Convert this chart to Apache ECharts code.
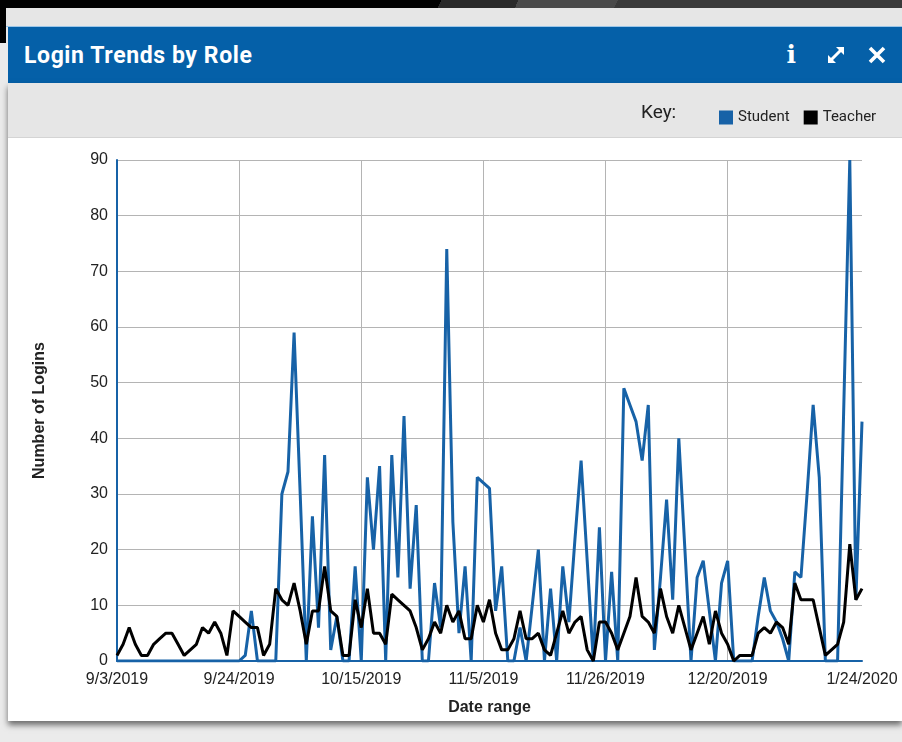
<!DOCTYPE html>
<html>
<head>
<meta charset="utf-8">
<script src="https://cdn.jsdelivr.net/npm/echarts@6/dist/echarts.min.js"></script>
<style>
  html, body { margin: 0; padding: 0; }
  body { width: 902px; height: 742px; position: relative; overflow: hidden; background: #ebebeb; font-family: Roboto, "Liberation Sans", sans-serif; }
  #topband { position: absolute; left: 0; top: 0; width: 902px; height: 8px;
    background: linear-gradient(115deg, #000 0, #000 400px, #2a2a2a 400px, #2a2a2a 470px, #4a4a4a 470px, #4a4a4a 560px, #3a3a3a 560px); }
  #corner { position: absolute; left: 0; top: 0; width: 6px; height: 43px; background: #000; }
  #panelTop { position: absolute; left: 6px; top: 8px; width: 896px; height: 18px; background: #e6e6e6; border-bottom: 1px solid #9cc6e8; }
  #header { position: absolute; left: 8px; top: 27px; width: 894px; height: 56px; background: #0560a8; color: #fff; }
  #title { position: absolute; left: 16px; top: 15px; font-size: 23px; font-weight: bold; letter-spacing: 0.6px; }
  #icons { position: absolute; right: 15px; top: 11px; height: 34px; display: flex; align-items: center; }
  .ico { color: #fff; font-weight: bold; font-size: 26px; margin-left: 22px; line-height: 34px; }
  #chart { position: absolute; left: 8px; top: 83px; width: 894px; height: 638px; background: #fff;
    box-shadow: 0 4px 6px rgba(0,0,0,0.55); }
</style>
</head>
<body>
<div id="topband"></div>
<div id="corner"></div>
<div id="panelTop"></div>
<div id="header">
  <div id="title">Login Trends by Role</div>
  <div id="icons">
    <span class="ico" style="font-family:'DejaVu Serif',serif;font-size:25px;">i</span>
    <svg class="ico" width="22" height="22" viewBox="0 0 22 22" style="margin-left:29px">
      <path d="M4 18 L18 4" stroke="#fff" stroke-width="3" fill="none"/>
      <path d="M11 3 L19 3 L19 11 Z" fill="#fff"/>
      <path d="M3 11 L3 19 L11 19 Z" fill="#fff"/>
    </svg>
    <svg class="ico" width="20" height="20" viewBox="0 0 20 20" style="margin-left:20px">
      <path d="M3 3 L17 17 M17 3 L3 17" stroke="#fff" stroke-width="3.6" fill="none"/>
    </svg>
  </div>
</div>
<div id="chart"></div>
<script>
// Daily login counts by role, one entry per day with data
const dates = [
  '9/3/2019','9/4/2019','9/5/2019','9/6/2019','9/7/2019','9/8/2019','9/9/2019','9/10/2019','9/11/2019','9/12/2019',
  '9/13/2019','9/14/2019','9/15/2019','9/16/2019','9/17/2019','9/18/2019','9/19/2019','9/20/2019','9/22/2019','9/23/2019',
  '9/24/2019','9/25/2019','9/26/2019','9/27/2019','9/28/2019','9/29/2019','9/30/2019','10/1/2019','10/2/2019','10/3/2019',
  '10/4/2019','10/6/2019','10/7/2019','10/8/2019','10/9/2019','10/10/2019','10/11/2019','10/12/2019','10/13/2019','10/14/2019',
  '10/15/2019','10/16/2019','10/17/2019','10/18/2019','10/19/2019','10/20/2019','10/21/2019','10/22/2019','10/23/2019','10/24/2019',
  '10/25/2019','10/27/2019','10/28/2019','10/29/2019','10/30/2019','10/31/2019','11/1/2019','11/2/2019','11/3/2019','11/4/2019',
  '11/5/2019','11/6/2019','11/7/2019','11/8/2019','11/9/2019','11/10/2019','11/11/2019','11/12/2019','11/13/2019','11/14/2019',
  '11/15/2019','11/17/2019','11/18/2019','11/19/2019','11/20/2019','11/21/2019','11/22/2019','11/23/2019','11/24/2019','11/25/2019',
  '11/26/2019','11/27/2019','12/2/2019','12/3/2019','12/4/2019','12/5/2019','12/6/2019','12/7/2019','12/8/2019','12/9/2019',
  '12/10/2019','12/11/2019','12/12/2019','12/13/2019','12/14/2019','12/15/2019','12/16/2019','12/17/2019','12/18/2019','12/19/2019',
  '12/20/2019','1/3/2020','1/4/2020','1/5/2020','1/6/2020','1/7/2020','1/8/2020','1/9/2020','1/10/2020','1/11/2020',
  '1/12/2020','1/13/2020','1/14/2020','1/15/2020','1/16/2020','1/17/2020','1/18/2020','1/19/2020','1/20/2020','1/21/2020',
  '1/22/2020','1/23/2020','1/24/2020'
];

const studentLogins = [
  0,0,0,0,0,0,0,0,0,0,
  0,0,0,0,0,0,0,0,0,0,
  0,1,9,0,0,0,0,30,34,59,
  30,0,26,6,37,2,8,0,0,17,
  0,33,20,35,0,37,15,44,13,28,
  0,0,14,6,74,25,5,17,0,33,
  32,31,9,17,0,0,6,0,10,20,
  0,13,0,17,7,22,36,18,0,24,
  0,16,0,49,46,43,36,46,2,15,
  29,11,40,20,0,15,18,9,0,14,
  18,0,0,0,0,8,15,9,7,4,
  0,16,15,30,46,33,0,0,0,45,
  90,11,43
];

const teacherLogins = [
  1,3,6,3,1,1,3,4,5,5,
  3,1,2,3,6,5,7,5,1,9,
  8,7,6,6,1,3,13,11,10,14,
  9,3,9,9,17,9,8,1,1,11,
  6,13,5,5,3,12,11,10,9,6,
  2,4,7,5,10,7,9,4,4,10,
  7,11,5,2,2,4,9,4,4,5,
  2,1,5,9,5,7,8,2,0,7,
  7,5,2,5,8,15,8,7,5,13,
  8,5,10,6,2,5,8,3,9,5,
  3,0,1,1,1,5,6,5,7,6,
  3,14,11,11,11,6,1,2,3,7,
  21,11,13
];

// Dates printed under the x axis
const tickLabels = ['9/3/2019','9/24/2019','10/15/2019','11/5/2019','11/26/2019','12/20/2019','1/24/2020'];
const yTicks = { min: 0, max: 90, step: 10 };

const BLUE = '#1762a7';
const chart = echarts.init(document.getElementById('chart'), null, { renderer: 'canvas' });
const lastDate = dates[dates.length - 1];

chart.setOption({
  animation: false,
  backgroundColor: '#fff',
  graphic: [
    { type: 'rect', left: 0, top: 0, z: -1, shape: { width: 894, height: 54 }, style: { fill: '#e6e6e6' } },
    { type: 'rect', left: 0, top: 54, z: -1, shape: { width: 894, height: 1 }, style: { fill: '#d4d4d4' } },
    { type: 'text', left: 633, top: 21, style: { text: 'Key:', fill: '#222', font: '19px Roboto' } }
  ],
  legend: {
    left: 706, top: 22,
    icon: 'rect', itemWidth: 14, itemHeight: 14, itemGap: 14,
    textStyle: { color: '#222', fontSize: 15, fontFamily: 'Roboto' },
    data: ['Student', 'Teacher']
  },
  grid: { left: 109, right: 40, top: 77, bottom: 55 },
  xAxis: {
    type: 'category',
    data: dates,
    boundaryGap: false,
    name: 'Date range',
    nameLocation: 'middle',
    nameGap: 39,
    nameTextStyle: { color: '#222', fontSize: 16, fontWeight: 'bold', fontFamily: 'Liberation Sans' },
    axisLine: { lineStyle: { color: BLUE, width: 2 } },
    axisTick: { show: false },
    axisLabel: {
      interval: (i, v) => tickLabels.includes(v),
      color: '#222', fontSize: 16, fontFamily: 'Liberation Sans', margin: 11
    },
    splitLine: {
      show: true,
      interval: (i, v) => tickLabels.includes(v) && v !== lastDate && i !== 0,
      lineStyle: { color: '#b4b4b4', width: 1 }
    }
  },
  yAxis: {
    type: 'value',
    min: yTicks.min, max: yTicks.max, interval: yTicks.step,
    name: 'Number of Logins',
    nameLocation: 'middle',
    nameGap: 69,
    nameRotate: 90,
    nameTextStyle: { color: '#222', fontSize: 16, fontWeight: 'bold', fontFamily: 'Liberation Sans' },
    axisLine: { show: true, lineStyle: { color: BLUE, width: 2 } },
    axisTick: { show: false },
    axisLabel: { color: '#222', fontSize: 16, fontFamily: 'Liberation Sans', margin: 9 },
    splitLine: { lineStyle: { color: '#b4b4b4', width: 1 } }
  },
  series: [
    { name: 'Student', type: 'line', data: studentLogins, symbol: 'none', z: 2,
      itemStyle: { color: BLUE }, lineStyle: { color: BLUE, width: 3 } },
    { name: 'Teacher', type: 'line', data: teacherLogins, symbol: 'none', z: 3,
      itemStyle: { color: '#000' }, lineStyle: { color: '#000', width: 3 } }
  ]
});
</script>
</body>
</html>
